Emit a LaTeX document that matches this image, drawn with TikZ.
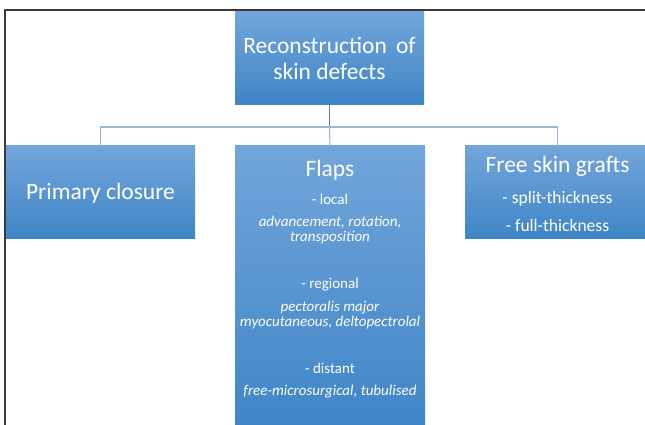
\documentclass[tikz,border=0pt]{standalone}
\usepackage{fontspec}
\setmainfont{Carlito}
\definecolor{boxtop}{HTML}{72A5DA}
\definecolor{boxbot}{HTML}{3F85C7}
\definecolor{linkc}{HTML}{9AB6D3}
\definecolor{stemc}{HTML}{5E7FA4}
\definecolor{framec}{HTML}{3A3A3A}
\begin{document}
\begin{tikzpicture}[x=1pt,y=1pt,
  box/.style={draw=none, top color=boxtop, bottom color=boxbot,
    inner sep=0pt, text=white},
  link/.style={draw=linkc, line width=1.1pt},
  stem/.style={draw=stemc, line width=1.1pt},
  frameline/.style={draw=framec, line width=1.3pt},
  head/.style={text=white, anchor=base, inner sep=0pt, font=\fontsize{23.5}{28}\selectfont},
  sub/.style={text=white, anchor=base, inner sep=0pt, font=\fontsize{17.5}{21}\selectfont},
  note/.style={text=white, anchor=base, inner sep=0pt, font=\fontsize{15}{18}\selectfont},
  notei/.style={note, font=\fontsize{15}{18}\selectfont\itshape}]
\useasboundingbox (0,0) rectangle (645,425);
\fill[white] (0,0) rectangle (645,425);

% boxes
\node[box, minimum width=189pt, minimum height=93pt] (root) at (329.5,366.5) {};
\node[box, minimum width=189pt, minimum height=93pt] (prim) at (100.5,232.5) {};
\node[box, minimum width=190pt, minimum height=284pt] (flaps) at (330,137) {};
\node[box, minimum width=185pt, minimum height=93pt] (free) at (557.5,232.5) {};

% connectors
\coordinate (bus) at (330,298);
\draw[stem] (root.south) -- (root.south |- bus);
\draw[link] (prim.north) -- (prim.north |- bus) -- (free.north |- bus) -- (free.north);
\draw[link] (root.south |- bus) -- (flaps.north);

% root text
\node[head] (r1) at (329.5,371) {Reconstruction\, of};
\node[head] (r2) at (329.5,345) {skin defects};

% primary closure text
\node[head] (p0) at (100.5,225) {Primary closure};

% flaps text
\node[head] (f0) at (330,248) {Flaps};
\node[note] (f1) at (330,220) {- local};
\node[notei] (f2) at (330,198) {advancement, rotation,};
\node[notei] (f3) at (330,183) {transposition};
\node[note] (f4) at (330,136) {- regional};
\node[notei] (f5) at (330,113) {pectoralis major};
\node[notei] (f6) at (330,98) {myocutaneous, deltopectrolal};
\node[note] (f7) at (330,51) {- distant};
\node[notei] (f8) at (330,29) {free-microsurgical, tubulised};

% free skin grafts text
\node[head] (g0) at (557.5,252) {Free skin grafts};
\node[sub] (g1) at (557.5,221) {- split-thickness};
\node[sub] (g2) at (557.5,193) {- full-thickness};

% page frame
\draw[frameline] (5,0) -- (5,415) -- (645,415);
\end{tikzpicture}
\end{document}
